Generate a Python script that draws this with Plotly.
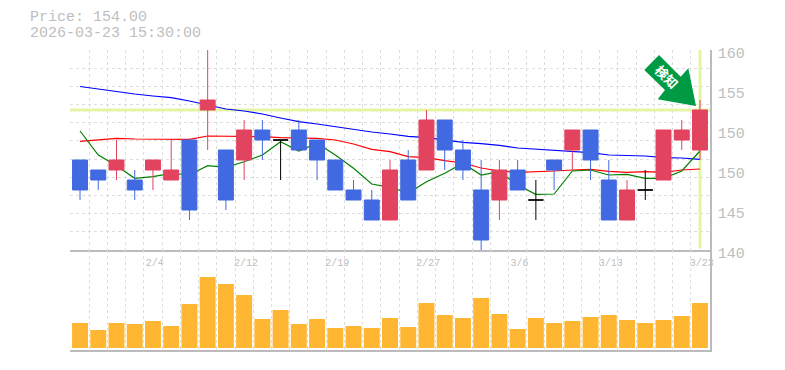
import plotly.graph_objects as go

dates_idx = list(range(35))
label_idx = [4, 9, 14, 19, 24, 29, 34]
label_txt = ["2/4", "2/12", "2/19", "2/27", "3/6", "3/13", "3/23"]

opens  = [149,148,148,147,148,147,151,154,150,149,152,151,152,151,149,146,145,143,149,148,153,150,146,145,148,145,149,150,152,147,143,146,147,151,150]
closes = [146,147,149,146,149,148,144,155,145,152,151,151,150,149,146,145,143,148,145,153,150,148,141,148,146,145,148,152,149,143,146,146,152,152,154]
highs  = [149,148,151,148,149,151,151,160,150,153,153,151,153,151,149,147,146,149,150,154,153,151,149,149,149,147,149,152,152,149,147,148,152,153,155]
lows   = [145,146,147,145,146,147,143,150,144,147,149,147,150,147,146,145,143,143,145,148,148,147,140,143,146,143,146,148,147,143,143,145,147,150,149]
volume = [25,18,25,24,27,22,44,71,64,53,29,38,24,29,20,22,20,30,21,45,33,30,50,34,19,30,25,27,31,33,28,25,28,32,45]
ma_long = [156.35,156.1,155.8,155.6,155.4,155.23,154.9,154.5,154.1,153.9,153.6,153.2,152.83,152.6,152.33,152.1,151.8,151.6,151.37,151.23,151.0,150.77,150.63,150.47,150.2,150.1,150.0,149.83,149.73,149.5,149.43,149.4,149.23,149.2,149.07]
ma_mid = [150.87,151.03,151.17,151.1,151.07,151.07,151.07,151.4,151.4,151.4,151.33,151.23,151.17,151.17,151.0,150.6,150.07,149.83,149.33,149.23,148.93,148.7,148.2,147.9,147.77,147.8,147.9,148.0,148.07,147.87,147.77,147.83,147.77,148.0,148.1]
ma_short = [151.9,149.5,148.43,147.17,147.33,147.67,147.5,148.43,148.27,148.83,149.5,150.83,149.9,150.67,149.5,148.17,146.6,146.27,145.7,146.83,147.67,148.67,147.5,147.83,146.5,145.57,145.6,147.9,148.0,147.5,147.57,147.17,147.17,147.9,149.9]
last_price = 154
price_ticks = [160, 156, 152, 148, 144, 140]
price_labels = ["160", "155", "150", "150", "145", "140"]

RED, BLUE, GRID, TXT = "#E2435F", "#4169E1", "#DDDDDD", "#BEBEBE"
HILITE = "#E3F5A5"
MONO = "Liberation Mono, DejaVu Sans Mono, monospace"
PAGE = 8  # the page's own body margin
L, T, PW, PH = 70, 50, 640, 300
XLO, XHI = -0.55, 34.55

def px(x, y):
    return (x - L) / PW, (T + PH - y) / PH

def to_data(x, y):
    return XLO + (x - L) / PW * (XHI - XLO), 160 - (y - T) / 10

fig = go.Figure()
for vals, col in [(ma_long, "#0000FF"), (ma_mid, "#FF0000"), (ma_short, "#008000")]:
    fig.add_trace(go.Scatter(x=dates_idx, y=vals, mode="lines", line=dict(color=col, width=1.2), hoverinfo="skip", showlegend=False))

is_doji = [o == c for o, c in zip(opens, closes)]
mask = lambda a, want: [v if d == want else None for v, d in zip(a, is_doji)]
fig.add_trace(go.Candlestick(x=dates_idx, open=mask(opens, False), high=mask(highs, False), low=mask(lows, False), close=mask(closes, False),
    increasing=dict(line=dict(color=RED, width=1), fillcolor=RED), decreasing=dict(line=dict(color=BLUE, width=1), fillcolor=BLUE),
    whiskerwidth=0, showlegend=False, hoverinfo="skip", yaxis="y3"))
fig.add_trace(go.Candlestick(x=dates_idx, open=mask(opens, True), high=mask(highs, True), low=mask(lows, True), close=mask(closes, True),
    increasing=dict(line=dict(color="#000000", width=1), fillcolor="#000000"), decreasing=dict(line=dict(color="#000000", width=1), fillcolor="#000000"),
    whiskerwidth=0, showlegend=False, hoverinfo="skip", yaxis="y3"))
fig.add_trace(go.Bar(x=dates_idx, y=volume, marker=dict(color="#FFB733", line=dict(width=0)), xaxis="x2", yaxis="y2", showlegend=False, hoverinfo="skip"))

grid_x = [i - 0.5 for i in range(36)]
text_x = [label_txt[label_idx.index(i)] if i in label_idx else "" for i in range(36)]
grid_y = [140 + 20 * k / 11 for k in range(12)]

common_x = dict(range=[XLO, XHI], tickvals=grid_x, showgrid=True, gridcolor=GRID, griddash="3px,3px", gridwidth=1,
                zeroline=False, showline=True, linecolor="#BBBBBB", linewidth=1.5, ticks="", rangeslider=dict(visible=False))
fig.update_layout(
    width=785 - PAGE, height=370 - PAGE, autosize=False,
    margin=dict(l=L - PAGE, r=785 - L - PW, t=T - PAGE, b=370 - T - PH, autoexpand=False),
    paper_bgcolor="#FFFFFF", plot_bgcolor="#FFFFFF",
    boxmode="overlay", boxgap=0.18, boxgroupgap=0, bargap=0.125,
    showlegend=False,
    xaxis=dict(**common_x, anchor="y", ticktext=text_x, ticklabelshift=11, ticklabelstandoff=2, tickangle=0,
               tickfont=dict(family=MONO, size=10, color=TXT)),
    xaxis2=dict(**common_x, anchor="y2", matches="x", showticklabels=False),
    yaxis=dict(domain=[100 / PH, 1], range=[140, 160], side="right", anchor="x", tickvals=price_ticks, ticktext=price_labels,
               tickfont=dict(family=MONO, size=15, color=TXT), ticks="", showgrid=False, zeroline=False,
               showline=True, linecolor="#BBBBBB", linewidth=1.5, ticklabelstandoff=3, ticklabelshift=3,
               minor=dict(tickvals=grid_y, showgrid=True, gridcolor=GRID, griddash="3px,3px", gridwidth=1, ticks="")),
    yaxis2=dict(domain=[0, 100 / PH], range=[-2, 98], side="right", anchor="x2", showticklabels=False, ticks="", showgrid=False,
                zeroline=False, showline=True, linecolor="#BBBBBB", linewidth=1.5),
    yaxis3=dict(domain=[100 / PH, 1], range=[140, 160], overlaying="y", side="right", anchor="x", visible=False),
)

fig.add_shape(type="line", xref="x", yref="y", x0=XLO, x1=XHI, y0=last_price, y1=last_price, line=dict(color=HILITE, width=3), layer="between")
fig.add_shape(type="line", xref="x", yref="y", x0=34, x1=34, y0=140.15, y1=160, line=dict(color=HILITE, width=3), layer="between")

arrow = [(659, 55), (644.3, 70), (665, 90), (657.7, 99.3), (696, 106), (688.3, 68.3), (680.7, 76.7)]
path = "M " + " L ".join("%.4f %.4f" % to_data(*p) for p in arrow) + " Z"
fig.add_shape(type="path", xref="x", yref="y", path=path, fillcolor="#009944", line=dict(width=0), layer="between")
x0, y0 = to_data(655.5, 68)
x1, y1 = to_data(675.5, 88)
fig.add_shape(type="rect", xref="x", yref="y", x0=x0, y0=y0, x1=x1, y1=y1, fillcolor="rgba(0,0,0,0)", line=dict(width=0), layer="above",
              label=dict(text="<b>検知</b>", textangle=45, textposition="middle center",
                         font=dict(family="Noto Sans CJK JP", size=13, color="#FFFFFF")))

for txt, y in [("Price: 154.00", 18), ("2026-03-23 15:30:00", 33)]:
    xx, yy = px(28, y)
    fig.add_annotation(xref="paper", yref="paper", x=xx, y=yy, xanchor="left", yanchor="middle", text=txt, showarrow=False, height=15,
                       font=dict(family=MONO, size=15, color=TXT))

fig.write_html("out.html", config=dict(displayModeBar=False))
